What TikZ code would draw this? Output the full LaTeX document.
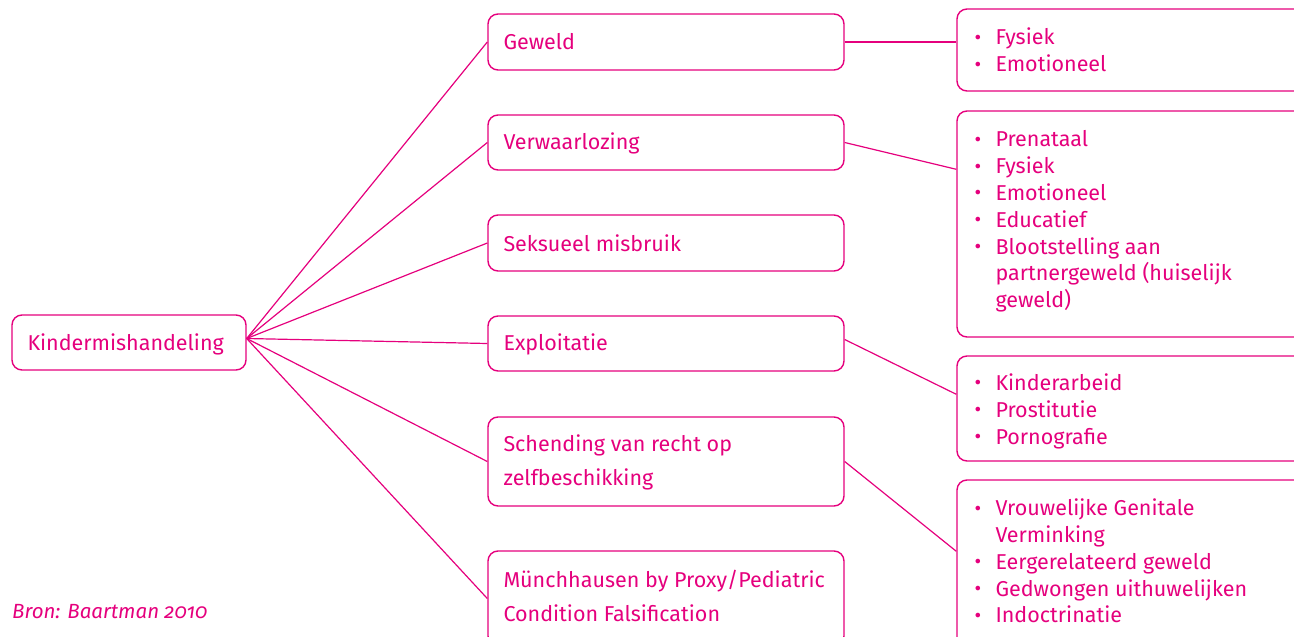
\documentclass[tikz,border=0pt]{standalone}
\usepackage{fontspec}
\setmainfont{Fira Sans}
\usetikzlibrary{calc}
\definecolor{mag}{HTML}{E5007D}
\tikzset{
  box/.style={draw=mag, line width=1.4pt, rounded corners=10pt, inner sep=0pt},
  lbl/.style={text=mag, anchor=west, inner sep=0pt, align=left, font=\fontsize{21.5}{34}\selectfont},
  lst/.style={text=mag, anchor=west, inner sep=0pt, font=\fontsize{21.5}{26.8}\selectfont},
  con/.style={draw=mag, line width=1.2pt},
}
\newcommand\bul{\makebox[21pt][l]{\raisebox{0.05ex}{\scalebox{0.95}{•}}}}
\begin{document}
\begin{tikzpicture}[x=1pt,y=-1pt]
\useasboundingbox (0,0) rectangle (1294,637);
\clip (0,0) rectangle (1294,637);
% left
\node[box, minimum width=234pt, minimum height=55pt] (k) at (129,342.5) {};
\node[lbl] (kt) at ([xshift=16pt,yshift=-1.5pt]k.west) {Kindermishandeling};
% middle
\node[box, minimum width=356pt, minimum height=56pt] (g) at (666,42) {};
\node[lbl] (gt) at ([xshift=16pt]g.west) {Geweld};
\node[box, minimum width=356pt, minimum height=55pt] (v) at (666,142.5) {};
\node[lbl] (vt) at ([xshift=16pt,yshift=-1pt]v.west) {Verwaarlozing};
\node[box, minimum width=356pt, minimum height=56pt] (s) at (666,243) {};
\node[lbl] (st) at ([xshift=16pt]s.west) {Seksueel misbruik};
\node[box, minimum width=356pt, minimum height=55pt] (e) at (666,343.5) {};
\node[lbl] (et) at ([xshift=16pt,yshift=-1pt]e.west) {Exploitatie};
\node[box, minimum width=356pt, minimum height=89pt] (sc) at (666,461.5) {};
\node[lbl] (sct) at ([xshift=16pt,yshift=-1pt]sc.west) {Schending van recht op\\zelfbeschikking};
\node[box, minimum width=356pt, minimum height=95pt] (m) at (666,598.5) {};
\node[lbl] (mt) at ([xshift=16pt,yshift=3pt]m.west) {Münchhausen by Proxy/Pediatric\\Condition Falsification};
% right
\node[box, minimum width=360pt, minimum height=82pt] (r1) at (1137,50) {};
\node[lst] (r1t) at ([xshift=18pt,yshift=-3pt]r1.west) {\begin{tabular}{@{}l@{}}\bul Fysiek\\\bul Emotioneel\end{tabular}};
\node[box, minimum width=360pt, minimum height=226pt] (r2) at (1137,224) {};
\node[lst] (r2t) at ([xshift=18pt,yshift=2pt]r2.west) {\begin{tabular}{@{}l@{}}\bul Prenataal\\\bul Fysiek\\\bul Emotioneel\\\bul Educatief\\\bul Blootstelling aan\\\hspace*{21pt}partnergeweld (huiselijk\\\hspace*{21pt}geweld)\end{tabular}};
\node[box, minimum width=360pt, minimum height=105pt] (r3) at (1137,408.5) {};
\node[lst] (r3t) at ([xshift=18pt,yshift=-3.5pt]r3.west) {\begin{tabular}{@{}l@{}}\bul Kinderarbeid\\\bul Prostitutie\\\bul Pornografie\end{tabular}};
\node[box, minimum width=360pt, minimum height=170pt] (r4) at (1137,565) {};
\node[lst] (r4t) at ([xshift=18pt,yshift=1pt]r4.west) {\begin{tabular}{@{}l@{}}\bul Vrouwelijke Genitale\\\hspace*{21pt}Verminking\\\bul Eergerelateerd geweld\\\bul Gedwongen uithuwelijken\\\bul Indoctrinatie\end{tabular}};
% connectors left
\coordinate (hub) at ([yshift=4pt]k.east);
\foreach \t in {g,v,s,e,sc,m} \draw[con] (hub) -- (\t.west);
% connectors right
\draw[con] (g.east) -- (g.east -| r1.west);
\draw[con] (v.east) -- ([yshift=-59pt]r2.north west);
\draw[con] ([yshift=4pt]e.east) -- ([yshift=-39pt]r3.north west);
\draw[con] (sc.east) -- ([yshift=-72pt]r4.north west);
% source
\node[text=mag, anchor=west, inner sep=0pt, font=\fontsize{20.5}{24}\selectfont\itshape\addfontfeature{Numbers=OldStyle}] (src) at (12,612) {Bron: Baartman 2010};
\end{tikzpicture}
\end{document}
